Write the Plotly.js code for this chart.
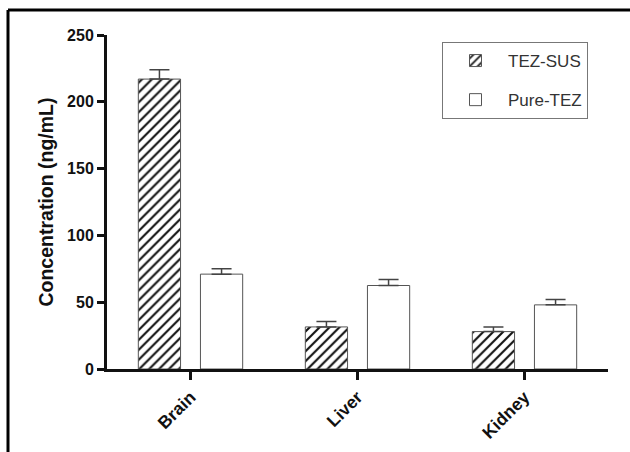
<!DOCTYPE html>
<html>
<head>
<meta charset="utf-8">
<script src="https://cdn.plot.ly/plotly-3.0.1.min.js"></script>
<style>
html,body{margin:0;padding:0;background:#fff;}
#chart{width:630px;height:452px;}
</style>
</head>
<body>
<div id="chart"></div>
<script>
const categories = ["Brain", "Liver", "Kidney"];
const seriesNames = ["TEZ-SUS", "Pure-TEZ"];
const tezSus = [217, 31.5, 28];
const tezSusErr = [7, 4, 3.5];
const pureTez = [71, 62.5, 48];
const pureTezErr = [4, 4.5, 4];
const yTicks = [0, 50, 100, 150, 200, 250];

const W = 630, H = 452;
const margin = {l: 107, r: 22, t: 35, b: 83};
const pw = W - margin.l - margin.r, ph = H - margin.t - margin.b;
function px2paperX(p){ return (p - margin.l) / pw; }
function px2paperY(p){ return 1 - (p - margin.t) / ph; }

const zeros = categories.map(() => 0);
const FONT = '"Liberation Sans", Arial, sans-serif';

const traces = [
  {
    type: 'bar', name: seriesNames[0], x: categories, y: tezSus,
    legendgroup: 'a',
    marker: {color: '#ffffff', line: {color: '#555555', width: 1},
      pattern: {shape: '/', fgcolor: '#111111', bgcolor: '#ffffff', size: 7, solidity: 0.3}},
    error_y: {type: 'data', symmetric: false, array: tezSusErr, arrayminus: zeros,
      color: '#444444', thickness: 1.5, width: 10}
  },
  {
    type: 'bar', name: seriesNames[1], x: categories, y: pureTez,
    legendgroup: 'b',
    marker: {color: '#ffffff', line: {color: '#555555', width: 1}},
    error_y: {type: 'data', symmetric: false, array: pureTezErr, arrayminus: zeros,
      color: '#444444', thickness: 1.5, width: 10}
  }
];

const layout = {
  width: W, height: H,
  margin: margin,
  paper_bgcolor: '#ffffff', plot_bgcolor: '#ffffff',
  barmode: 'group', bargap: 0.256, bargroupgap: 0.32,
  font: {family: FONT, color: '#111111'},
  showlegend: true,
  legend: {
    x: px2paperX(442), y: px2paperY(42), xanchor: 'left', yanchor: 'top',
    bordercolor: '#777777', borderwidth: 1, bgcolor: '#ffffff',
    font: {size: 17, color: '#333333', family: FONT},
    traceorder: 'grouped', tracegroupgap: 14, itemwidth: 55
  },
  xaxis: {
    type: 'category', range: [-0.5, 2.5],
    showline: true, linecolor: '#111111', linewidth: 3,
    ticks: 'outside', ticklen: 8, tickwidth: 3, tickcolor: '#111111',
    tickangle: -45, showgrid: false, zeroline: false,
    tickfont: {size: 17.5, family: FONT, weight: 'bold', color: '#111111'}
  },
  yaxis: {
    range: [0, 250], tickvals: yTicks, ticktext: yTicks.map(String),
    showline: true, linecolor: '#111111', linewidth: 3,
    ticks: 'outside', ticklen: 7, tickwidth: 3, tickcolor: '#111111',
    showgrid: false, zeroline: false,
    tickfont: {size: 16, family: FONT, weight: 'bold', color: '#111111'},
    title: {text: 'Concentration (ng/mL)', standoff: 9,
      font: {size: 19.5, family: FONT, weight: 'bold', color: '#111111'}}
  },
  shapes: [
    {type: 'line', xref: 'paper', yref: 'paper',
      x0: px2paperX(8), x1: px2paperX(8), y0: px2paperY(460), y1: px2paperY(10),
      line: {color: '#000000', width: 3}},
    {type: 'line', xref: 'paper', yref: 'paper',
      x0: px2paperX(8), x1: px2paperX(640), y0: px2paperY(10), y1: px2paperY(10),
      line: {color: '#000000', width: 3}}
  ]
};

Plotly.newPlot('chart', traces, layout, {displayModeBar: false, staticPlot: true});
</script>
</body>
</html>
